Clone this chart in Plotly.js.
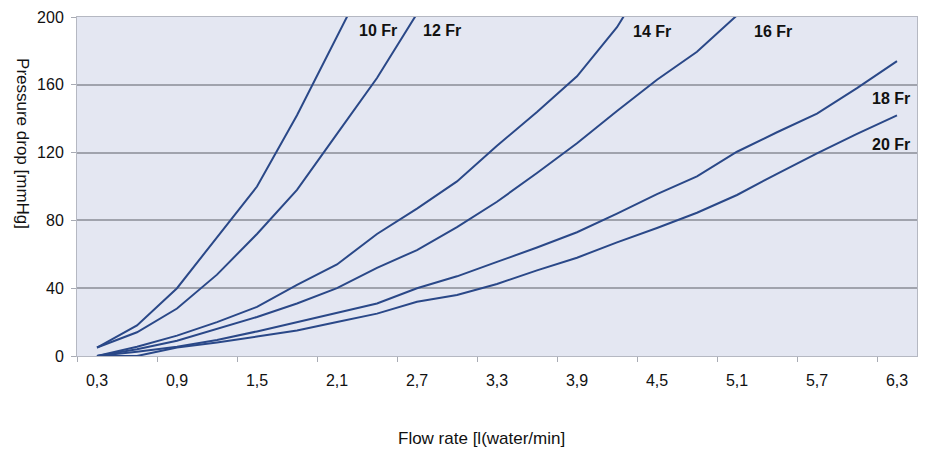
<!DOCTYPE html>
<html>
<head>
<meta charset="utf-8">
<script src="https://cdn.plot.ly/plotly-3.0.1.min.js"></script>
<style>html,body{margin:0;padding:0;background:#fff;}#chart{width:925px;height:464px;}</style>
</head>
<body>
<div id="chart"></div>
<script>
// Flow rate [l water / min]
const flow = [0.3,0.6,0.9,1.2,1.5,1.8,2.1,2.4,2.7,3.0,3.3,3.6,3.9,4.2,4.5,4.8,5.1,5.4,5.7,6.0,6.3];

// Pressure drop [mmHg] per catheter size
const fr10 = [5,18,40,70,100,142,188,235];
const fr12 = [5,14,28,48,72,98,131,164,202];
const fr14 = [0,5.5,12,20,29,42,54,72,87,103,124,144,165,194,232];
const fr16 = [0,4,9,16,23,31,40,52,62.5,76,91,108,125.5,144.5,163,179.5,201];
const fr18 = [0,2.5,5.5,9.5,14.5,20,25.5,31,40,47,55.5,64,73,84,95.5,106,120.5,132,143,158,174];
const fr20 = [0,0,5,8,11.5,15,20,25,32,36,42.5,50.5,58,67,75.5,84.5,95,107.5,119.5,131,142];

const seriesNames = ['10 Fr','12 Fr','14 Fr','16 Fr','18 Fr','20 Fr'];
const seriesData = [fr10, fr12, fr14, fr16, fr18, fr20];

// label anchor positions (data units)
const labelX = [2.41, 2.89, 4.46, 5.37, 6.255, 6.255];
const labelY = [192, 192, 191.5, 191.5, 152, 125];

const tickVals = [0.3,0.9,1.5,2.1,2.7,3.3,3.9,4.5,5.1,5.7,6.3];
const tickText = ['0,3','0,9','1,5','2,1','2,7','3,3','3,9','4,5','5,1','5,7','6,3'];
const boundaryTicks = [0.15,0.75,1.35,1.95,2.55,3.15,3.75,4.35,4.95,5.55,6.15];

const lineColor = '#2a4888';
const FONT = '"Liberation Sans", Arial, sans-serif';

const traces = seriesData.map((ys, i) => ({
  type: 'scatter',
  mode: 'lines',
  name: seriesNames[i],
  x: flow.slice(0, ys.length),
  y: ys,
  line: {color: lineColor, width: 2},
  hoverinfo: 'x+y+name'
}));

const annotations = seriesNames.map((n, i) => ({
  x: labelX[i], y: labelY[i], xref: 'x', yref: 'y',
  text: '<b>' + n + '</b>', showarrow: false,
  font: {family: FONT, size: 16, color: '#111'},
  xanchor: 'center', yanchor: 'middle'
}));

annotations.push({
  xref: 'paper', yref: 'paper', x: 0.482, y: -0.243,
  text: 'Flow rate [l(water/min]', showarrow: false,
  font: {family: FONT, size: 17, color: '#111'},
  xanchor: 'center', yanchor: 'middle'
});
annotations.push({
  xref: 'paper', yref: 'paper', x: -0.065, y: 0.627,
  text: 'Pressure drop [mmHg]', showarrow: false, textangle: 90,
  font: {family: FONT, size: 17, color: '#111'},
  xanchor: 'center', yanchor: 'middle'
});

const layout = {
  width: 925, height: 464,
  margin: {l: 77, r: 8, t: 17, b: 108},
  paper_bgcolor: '#ffffff',
  plot_bgcolor: '#e4e7f2',
  showlegend: false,
  font: {family: FONT, size: 16, color: '#111'},
  xaxis: {
    range: [0.15, 6.45],
    tickmode: 'array', tickvals: tickVals, ticktext: tickText,
    ticks: '', showgrid: false, zeroline: false,
    showline: true, linecolor: '#b5b8c2', linewidth: 1, mirror: true,
    tickfont: {family: FONT, size: 16, color: '#111'},
    ticklabelstandoff: 10,
    minor: {tickmode: 'array', tickvals: boundaryTicks, ticks: 'outside', ticklen: 5, tickcolor: '#a8abb4', tickwidth: 1, showgrid: false}
  },
  yaxis: {
    range: [0, 200],
    tickmode: 'array', tickvals: [0,40,80,120,160,200],
    ticks: 'outside', ticklen: 5, tickcolor: '#a8abb4',
    showgrid: true, gridcolor: '#a0a3ad', gridwidth: 2,
    zeroline: false,
    showline: true, linecolor: '#b5b8c2', linewidth: 1, mirror: true,
    tickfont: {family: FONT, size: 16, color: '#111'},
    ticklabelstandoff: 4
  },
  annotations: annotations
};

Plotly.newPlot('chart', traces, layout, {displayModeBar: false, staticPlot: true});
</script>
</body>
</html>
